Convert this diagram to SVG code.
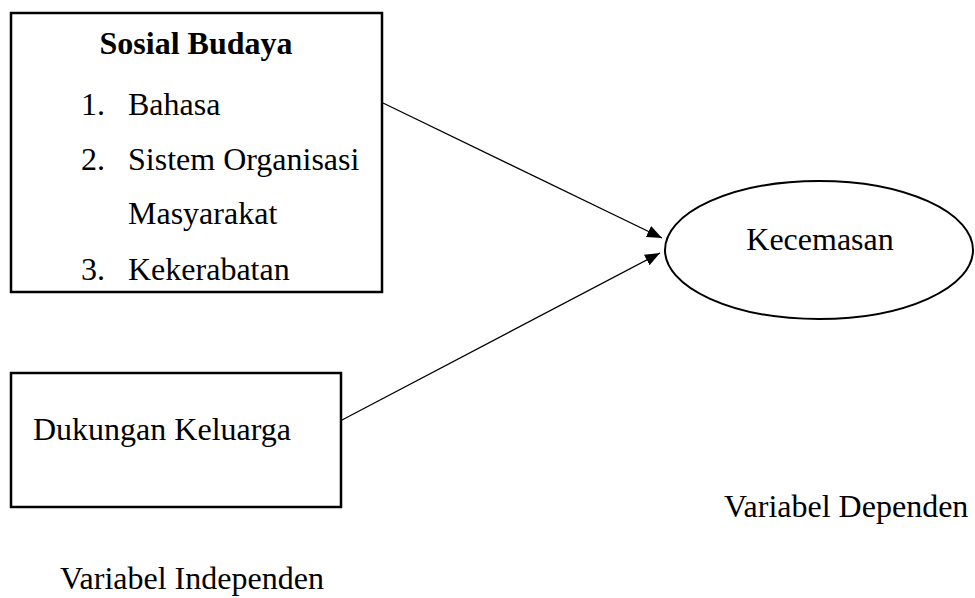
<svg xmlns="http://www.w3.org/2000/svg" width="975" height="598" viewBox="0 0 975 598">
<style>
.t{font-family:"Liberation Serif","Times New Roman",serif;font-size:32px;fill:#000}
.b{font-weight:bold}
.box{fill:#fff;stroke:#000;stroke-width:2.5}
.con{stroke:#000;stroke-width:1.3;fill:none}
</style>
<defs>
<marker id="ah" markerUnits="userSpaceOnUse" markerWidth="16" markerHeight="12" refX="15" refY="6" orient="auto">
<path d="M0,0 L15,6 L0,12 z" fill="#000"/>
</marker>
</defs>
<rect width="975" height="598" fill="#fff"/>
<g id="connectors">
<line class="con" x1="383" y1="103" x2="662" y2="238" marker-end="url(#ah)"/>
<line class="con" x1="342" y1="420" x2="660" y2="253" marker-end="url(#ah)"/>
</g>
<g id="sosial-budaya">
<rect class="box" x="11" y="13" width="371" height="279"/>
<text class="t b" x="196" y="54" text-anchor="middle">Sosial Budaya</text>
<text class="t" x="81" y="115">1.</text><text class="t" x="128" y="115">Bahasa</text>
<text class="t" x="81" y="170">2.</text><text class="t" x="128" y="170">Sistem Organisasi</text>
<text class="t" x="128" y="224">Masyarakat</text>
<text class="t" x="81" y="280">3.</text><text class="t" x="128" y="280">Kekerabatan</text>
</g>
<g id="dukungan-keluarga">
<rect class="box" x="11" y="373" width="330" height="134"/>
<text class="t" x="33" y="440">Dukungan Keluarga</text>
</g>
<g id="kecemasan">
<ellipse cx="819" cy="250" rx="154" ry="69" fill="#fff" stroke="#000" stroke-width="2"/>
<text class="t" x="820" y="250" text-anchor="middle">Kecemasan</text>
</g>
<g id="labels">
<text class="t" x="724" y="517">Variabel Dependen</text>
<text class="t" x="60" y="589">Variabel Independen</text>
</g>
</svg>
